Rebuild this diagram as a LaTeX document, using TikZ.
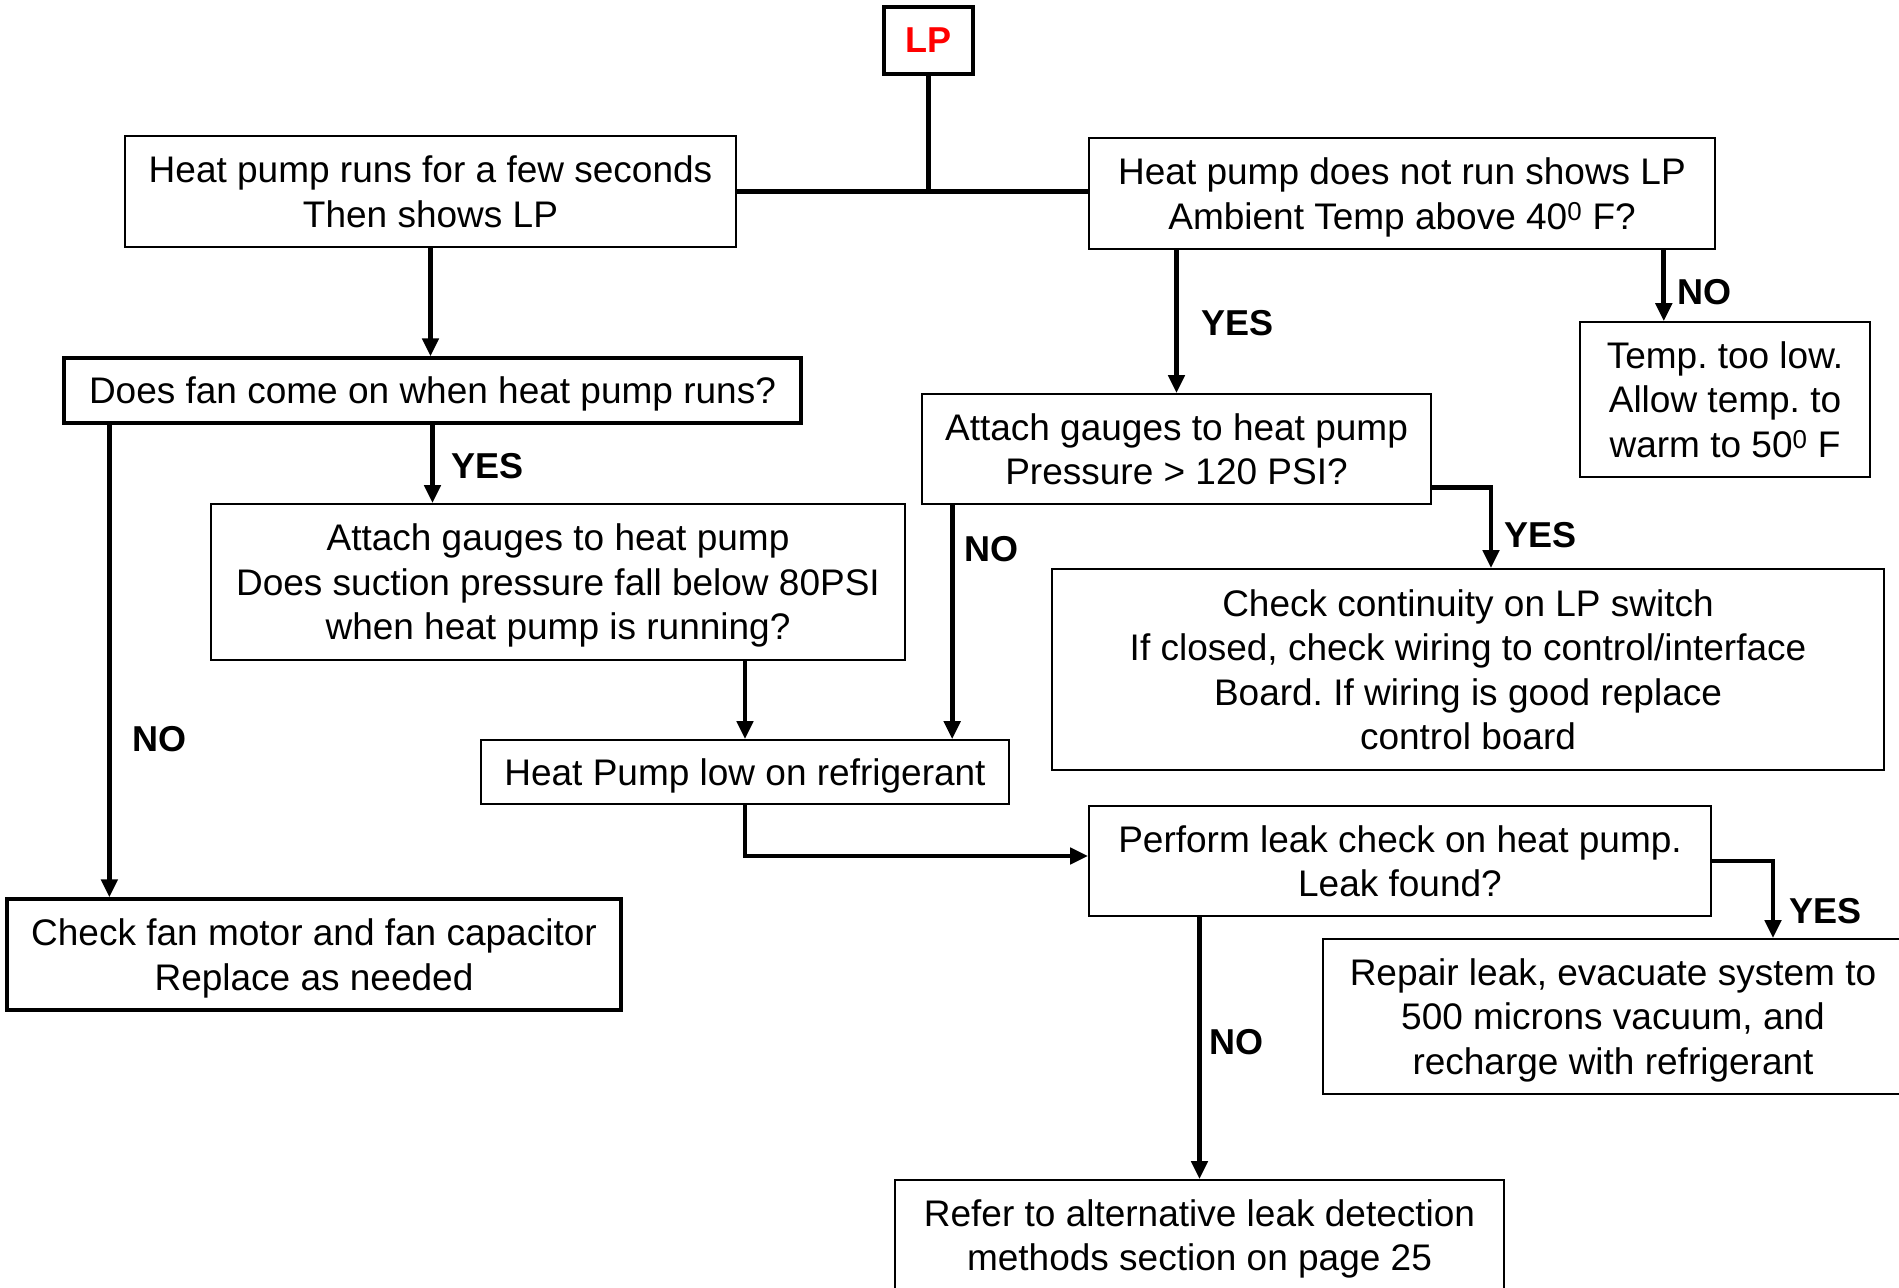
\documentclass[tikz,border=0pt]{standalone}
\usepackage{fontspec}
\setmainfont{Liberation Sans}
\usetikzlibrary{arrows.meta}
\frenchspacing

\begin{document}
\begin{tikzpicture}[
    x=1pt, y=-1pt, % one unit per pixel, y grows downwards
    box/.style={
        draw, % Draw a border around nodes
        line width=1.6pt, % thin border
        inner sep=0pt,
        text depth=0pt, % keep descenders from lifting the text
        align=center, % Center text within nodes
        font=\fontsize{37}{44.5}\selectfont % Arial-like, large
    },
    thickbox/.style={box, line width=3.3pt}, % heavier border
    answer/.style={
        inner sep=0pt,
        anchor=west, % label sits right of its line
        font=\fontsize{36}{40}\selectfont\bfseries
    },
    arr/.style={line width=4.7pt, -{Triangle[length=18pt,width=16pt]}} % Style for the connecting lines (arrows)
]
\useasboundingbox[fill=white] (0,0) rectangle (1899,1288);

% boxes
\node[thickbox, minimum width=89pt, minimum height=67pt, text=red,
    font=\fontsize{36}{40}\selectfont\bfseries] (lp) at (928.5,40.5) {LP};
\node[box, minimum width=611pt, minimum height=111pt] (runs) at (430.5,191.5)
    {Heat pump runs for a few seconds\\Then shows LP};
\node[box, minimum width=626pt, minimum height=111pt] (norun) at (1402,193.5)
    {Heat pump does not run shows LP\\Ambient Temp above 40\textsuperscript{0} F?};
\node[box, minimum width=290pt, minimum height=155pt] (toolow) at (1725,399.5)
    {Temp. too low.\\Allow temp. to\\warm to 50\textsuperscript{0} F};
\node[thickbox, minimum width=737pt, minimum height=65pt] (fan) at (432.5,390.5)
    {Does fan come on when heat pump runs?};
\node[box, minimum width=509pt, minimum height=110pt] (gaugesB) at (1176.5,449)
    {Attach gauges to heat pump\\Pressure > 120 PSI?};
\node[box, minimum width=694pt, minimum height=156pt] (gaugesA) at (558,582)
    {Attach gauges to heat pump\\Does suction pressure fall below 80PSI\\when heat pump is running?};
\node[box, minimum width=832pt, minimum height=201pt] (contin) at (1468,669.5)
    {Check continuity on LP switch\\If closed, check wiring to control/interface\\Board. If wiring is good replace\\control board};
\node[box, minimum width=528pt, minimum height=64pt] (lowref) at (745,772)
    {Heat Pump low on refrigerant};
\node[box, minimum width=622pt, minimum height=110pt] (leak) at (1400,861)
    {Perform leak check on heat pump.\\Leak found?};
\node[thickbox, minimum width=614pt, minimum height=111pt] (fanmotor) at (314,954.5)
    {Check fan motor and fan capacitor\\Replace as needed};
\node[box, minimum width=580pt, minimum height=155pt] (repair) at (1613,1016.5)
    {Repair leak, evacuate system to\\500 microns vacuum, and\\recharge with refrigerant};
\node[box, minimum width=609pt, minimum height=110pt] (alt) at (1199.5,1235)
    {Refer to alternative leak detection\\methods section on page 25};

% YES / NO labels
\node[answer] (yes1) at (451,466) {YES};
\node[answer] (no1) at (132,739) {NO};
\node[answer] (yes2) at (1201,323.5) {YES};
\node[answer] (no2) at (1677,292.5) {NO};
\node[answer] (no3) at (964,549.5) {NO};
\node[answer] (yes3) at (1504,535.5) {YES};
\node[answer] (yes4) at (1789,911.5) {YES};
\node[answer] (no4) at (1209,1042.5) {NO};

% off-centre ends of connectors
\coordinate (fanno) at ([xshift=47pt]fan.south west);
\coordinate (norunno) at ([xshift=-52pt]norun.south east);
\coordinate (gaugesno) at ([xshift=31pt]gaugesB.south west);
\coordinate (gaugesyes) at ([yshift=17pt]gaugesB.south east);
\coordinate (continyes) at ([xshift=23pt]contin.north);
\coordinate (leakin) at ([yshift=5pt]leak.west);
\coordinate (leakyes) at ([xshift=160pt]repair.north);

% connectors
\draw[line width=4.7pt] (lp.south) -- (lp.south |- runs.east);
\draw[line width=4.7pt] (runs.east) -- (runs.east -| norun.west);
\draw[arr] (runs.south) -- (runs.south |- fan.north);
\draw[arr] (fan.south) -- (fan.south |- gaugesA.north);
\draw[arr] (fanno) -- (fanno |- fanmotor.north);
\draw[arr] (gaugesA.south -| lowref.north) -- (lowref.north);
\draw[arr] (norun.south -| gaugesB.north) -- (gaugesB.north);
\draw[arr] (norunno) -- (norunno |- toolow.north);
\draw[arr] (gaugesno) -- (gaugesno |- lowref.north);
\draw[arr] (gaugesyes) -| (continyes);
\draw[arr] (lowref.south) |- (leakin);
\draw[arr] (leak.east) -| (leakyes);
\draw[arr] (leak.south -| alt.north) -- (alt.north);
\end{tikzpicture}
\end{document}
